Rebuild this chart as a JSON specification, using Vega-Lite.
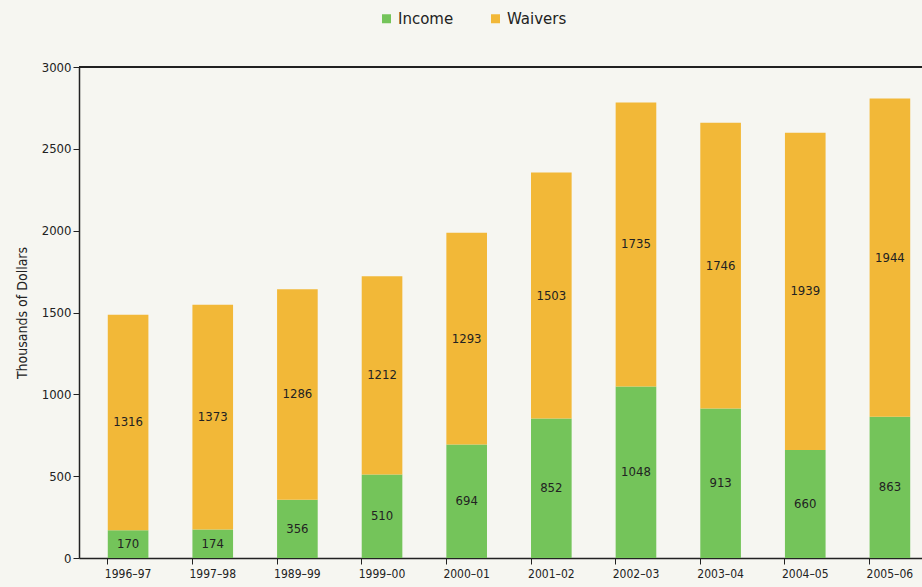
{
  "$schema": "https://vega.github.io/schema/vega-lite/v6.json",
  "width": 860,
  "height": 491,
  "autosize": "none",
  "padding": {"left": 79, "top": 67, "right": 0, "bottom": 29},
  "background": "#f6f6f1",
  "config": {
    "view": {"stroke": null},
    "font": "DejaVu Sans Condensed"
  },
  "data": {
    "values": [
      {"year": "1996–97", "type": "Income", "value": 170},
      {"year": "1996–97", "type": "Waivers", "value": 1316},
      {"year": "1997–98", "type": "Income", "value": 174},
      {"year": "1997–98", "type": "Waivers", "value": 1373},
      {"year": "1989–99", "type": "Income", "value": 356},
      {"year": "1989–99", "type": "Waivers", "value": 1286},
      {"year": "1999–00", "type": "Income", "value": 510},
      {"year": "1999–00", "type": "Waivers", "value": 1212},
      {"year": "2000–01", "type": "Income", "value": 694},
      {"year": "2000–01", "type": "Waivers", "value": 1293},
      {"year": "2001–02", "type": "Income", "value": 852},
      {"year": "2001–02", "type": "Waivers", "value": 1503},
      {"year": "2002–03", "type": "Income", "value": 1048},
      {"year": "2002–03", "type": "Waivers", "value": 1735},
      {"year": "2003–04", "type": "Income", "value": 913},
      {"year": "2003–04", "type": "Waivers", "value": 1746},
      {"year": "2004–05", "type": "Income", "value": 660},
      {"year": "2004–05", "type": "Waivers", "value": 1939},
      {"year": "2005–06", "type": "Income", "value": 863},
      {"year": "2005–06", "type": "Waivers", "value": 1944}
    ]
  },
  "transform": [
    {"stack": "value", "groupby": ["year"], "sort": [{"field": "type", "order": "ascending"}], "as": ["v0", "v1"]},
    {"calculate": "(datum.v0 + datum.v1) / 2", "as": "mid"}
  ],
  "layer": [
    {
      "mark": {"type": "bar"},
      "encoding": {
        "x": {
          "field": "year", "type": "nominal", "sort": null,
          "scale": {"paddingInner": 0.52, "paddingOuter": 0.34},
          "axis": {
            "title": null, "labelAngle": 0, "bandPosition": 0,
            "labelFontSize": 12, "labelColor": "#222", "labelPadding": 4,
            "tickSize": 6, "tickColor": "#222", "domainColor": "#222", "domainWidth": 1.5
          }
        },
        "y": {
          "field": "v0", "type": "quantitative",
          "scale": {"domain": [0, 3000]},
          "axis": {
            "title": "Thousands of Dollars", "titleFontSize": 14, "titleFontWeight": "normal",
            "titleColor": "#222", "titlePadding": 12, "format": "d",
            "values": [0, 500, 1000, 1500, 2000, 2500, 3000],
            "grid": false, "labelFontSize": 13, "labelColor": "#222",
            "tickSize": 6, "tickColor": "#222", "domainColor": "#222", "domainWidth": 1.5
          }
        },
        "y2": {"field": "v1"},
        "color": {
          "field": "type", "type": "nominal",
          "scale": {"domain": ["Income", "Waivers"], "range": ["#74c45a", "#f2b838"]},
          "legend": {
            "title": null, "orient": "none", "direction": "horizontal",
            "legendX": 300, "legendY": -56,
            "symbolType": "square", "symbolSize": 81, "symbolStrokeWidth": 0,
            "labelFont": "DejaVu Sans", "labelFontSize": 15, "labelColor": "#222", "columnPadding": 34
          }
        }
      }
    },
    {
      "mark": {"type": "text", "fontSize": 13, "color": "#222"},
      "encoding": {
        "x": {"field": "year", "type": "nominal", "sort": null},
        "y": {"field": "mid", "type": "quantitative"},
        "text": {"field": "value", "type": "quantitative"}
      }
    },
    {
      "mark": {"type": "rule", "color": "#222", "strokeWidth": 1.5},
      "encoding": {"y": {"datum": 3000}}
    }
  ]
}
